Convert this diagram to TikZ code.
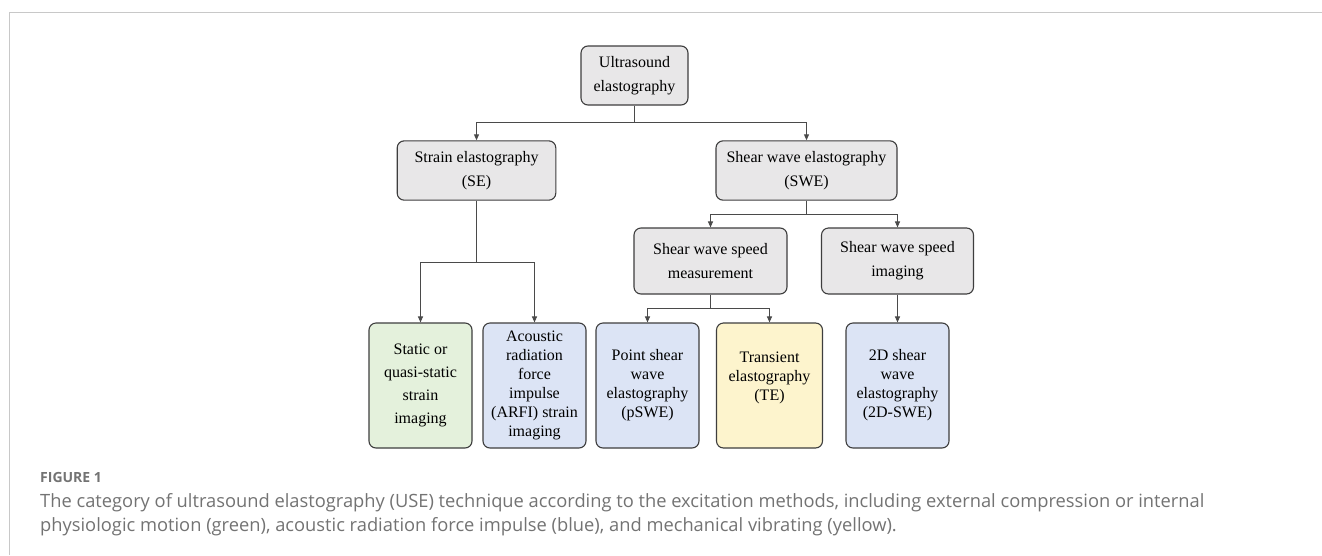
\documentclass[tikz,border=0pt]{standalone}
\usepackage{fontspec}
\setmainfont{Liberation Serif}
\newfontfamily\capfont{Open Sans}
\usetikzlibrary{arrows.meta}
\definecolor{boxline}{HTML}{3E3E3E}
\definecolor{connline}{HTML}{4A4A4A}
\definecolor{grayfill}{HTML}{E8E7E8}
\definecolor{greenfill}{HTML}{E4F1DC}
\definecolor{bluefill}{HTML}{DCE4F5}
\definecolor{yellowfill}{HTML}{FDF4CD}
\definecolor{framegray}{HTML}{C8C8C8}
\definecolor{captext}{HTML}{737373}
\tikzset{
  box/.style={draw=boxline, line width=1.1pt, rounded corners=7pt, inner sep=0pt, align=center,
    font=\fontsize{16}{24}\selectfont},
  topbox/.style={box, fill=grayfill},
  lowbox/.style={box, minimum width=103pt, minimum height=125pt, font=\fontsize{16}{19}\selectfont},
  conn/.style={draw=connline, line width=1pt, -{Triangle[length=6pt,width=5pt]}},
  capline/.style={anchor=base west, inner sep=0pt, text=captext, font=\capfont\fontsize{18.3}{22}\selectfont}
}
\begin{document}
\begin{tikzpicture}[x=1pt,y=-1pt]
\useasboundingbox (0,0) rectangle (1322,555);
\fill[white] (0,0) rectangle (1322,555);
\draw[framegray, line width=1pt] (9.5,555) -- (9.5,12.5) -- (1322,12.5);

\node[topbox, minimum width=107pt, minimum height=59pt] (root) at (634.5,75.5) {Ultrasound\\elastography};
\node[topbox, minimum width=158.6pt, minimum height=59.3pt] (se) at (476.5,170.5) {Strain elastography\\(SE)};
\node[topbox, minimum width=181pt, minimum height=59.3pt] (swe) at (806.5,170.5) {Shear wave elastography\\(SWE)};
\node[topbox, minimum width=153pt, minimum height=66pt] (meas) at (710.5,261) {Shear wave speed\\measurement};
\node[topbox, minimum width=152pt, minimum height=66pt] (img) at (897.5,261) {Shear wave speed\\imaging};

\node[lowbox, fill=greenfill, font=\fontsize{16}{23}\selectfont] (static) at (420.5,385.5) {Static or\\quasi-static\\strain\\imaging};
\node[lowbox, fill=bluefill] (arfi) at (534.5,385.5) {Acoustic\\radiation\\force\\impulse\\(ARFI) strain\\imaging};
\node[lowbox, fill=bluefill] (pswe) at (647.5,385.5) {Point shear\\wave\\elastography\\(pSWE)};
\node[lowbox, fill=yellowfill, minimum width=106pt] (te) at (769.5,385.5) {Transient\\elastography\\(TE)\\\mbox{}};
\node[lowbox, fill=bluefill] (twod) at (897.5,385.5) {2D shear\\wave\\elastography\\(2D-SWE)};

\coordinate (j1) at (634.5,122.5);
\draw[conn] (root.south) -- (j1) -| (se.north);
\draw[conn] (j1) -| (swe.north);
\coordinate (j2) at (806.5,214.5);
\draw[conn] (swe.south) -- (j2) -| (meas.north);
\draw[conn] (j2) -| (img.north);
\coordinate (j3) at (476.5,262.5);
\draw[conn] (se.south) -- (j3) -| (static.north);
\draw[conn] (j3) -| (arfi.north);
\coordinate (j4) at (710.5,308.5);
\draw[conn] (meas.south) -- (j4) -| (pswe.north);
\draw[conn] (j4) -| (te.north);
\draw[conn] (img.south) -- (twod.north);

\node[anchor=base west, inner sep=0pt, text=captext, font=\capfont\bfseries\fontsize{14}{16}\selectfont] (figlabel) at (40,482) {FIGURE 1};
\node[capline] (cap1) at (40,507) {The category of ultrasound elastography (USE) technique according to the excitation methods, including external compression or internal};
\node[capline] (cap2) at (40,531) {physiologic motion (green), acoustic radiation force impulse (blue), and mechanical vibrating (yellow).};
\end{tikzpicture}
\end{document}
